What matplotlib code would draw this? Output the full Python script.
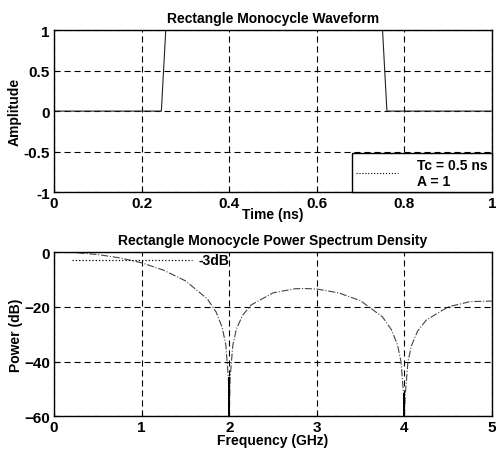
import matplotlib
matplotlib.use("Agg")
import matplotlib.pyplot as plt

# top panel: rectangle monocycle
time_ns = [0.0, 0.245, 0.255, 0.75, 0.76, 1.0]
amplitude = [0.0, 0.0, 1.0, 1.0, 0.0, 0.0]

# bottom panel: power spectrum density
freq_ghz = [0.0, 0.25, 0.5, 0.75, 1.0, 1.25, 1.5, 1.75, 1.85, 1.92, 1.96, 1.99,
            2.0, 2.01, 2.04, 2.08, 2.15, 2.25, 2.5, 2.75, 2.86, 3.0, 3.25, 3.5,
            3.75, 3.85, 3.92, 3.96, 3.99, 4.0, 4.01, 4.04, 4.08, 4.15, 4.25,
            4.5, 4.75, 5.0]
power_db = [0.0, -0.2, -0.9, -2.1, -3.9, -6.6, -10.5, -17.1, -21.9, -27.6, -33.8, -46.0,
            -60.0, -46.0, -34.2, -28.3, -23.2, -19.3, -14.9, -13.4, -13.3, -13.5, -14.9, -17.8,
            -23.7, -28.3, -33.8, -39.9, -52.0, -60.0, -52.0, -40.1, -34.2, -28.9, -24.8,
            -20.0, -18.1, -17.9]

ref_x = [0.2, 1.58]
ref_y = [-3, -3]

plt.rcParams["font.family"] = ["Liberation Sans", "DejaVu Sans"]
plt.rcParams["font.weight"] = "bold"
plt.rcParams["axes.titleweight"] = "bold"
plt.rcParams["axes.labelweight"] = "bold"

fig = plt.figure(figsize=(4.96, 4.52), dpi=100)
ax1 = fig.add_axes([0.109, 0.573, 0.883, 0.358])
ax2 = fig.add_axes([0.109, 0.077, 0.883, 0.363])

grid_kw = dict(color="black", linestyle=(0, (5.5, 3.5)), linewidth=0.8)

# ── top: waveform ──
ax1.plot(time_ns, amplitude, color="#222222", linewidth=0.8)
ax1.set_xlim(0, 1)
ax1.set_ylim(-1, 1)
ax1.set_xticks([0, 0.2, 0.4, 0.6, 0.8, 1])
ax1.set_xticklabels(["0", "0.2", "0.4", "0.6", "0.8", "1"])
ax1.set_yticks([-1, -0.5, 0, 0.5, 1])
ax1.set_yticklabels(["-1", "-0.5", "0", "0.5", "1"])
ax1.grid(True, **grid_kw)
ax1.set_title("Rectangle Monocycle Waveform", fontsize=10, pad=6)
ax1.set_xlabel("Time (ns)", fontsize=10, labelpad=-2)
ax1.set_ylabel("Amplitude", fontsize=10, labelpad=1)
leg_handle = plt.Line2D([], [], color="black", linestyle=":", linewidth=0.8)
ax1.legend([leg_handle], ["Tc = 0.5 ns\nA = 1"], loc="lower right", borderaxespad=0,
           fancybox=False, edgecolor="black", framealpha=1, borderpad=0.3,
           handlelength=3.0, handletextpad=1.4, prop={"weight": "bold", "size": 10})

# ── bottom: PSD ──
ax2.plot(freq_ghz, power_db, color="#444444", linestyle="-.", linewidth=0.8)
ax2.plot([2, 2], [-46, -60], color="black", linewidth=1.4)
ax2.plot([4, 4], [-52, -60], color="black", linewidth=1.4)
ax2.plot(ref_x, ref_y, color="black", linestyle=":", linewidth=0.9)
ax2.text(1.65, -3, "-3dB", fontsize=10, va="center", ha="left")
ax2.set_xlim(0, 5)
ax2.set_ylim(-60, 0)
ax2.set_xticks([0, 1, 2, 3, 4, 5])
ax2.set_yticks([-60, -40, -20, 0])
ax2.grid(True, **grid_kw)
ax2.set_title("Rectangle Monocycle Power Spectrum Density", fontsize=10, pad=6)
ax2.set_xlabel("Frequency (GHz)", fontsize=10, labelpad=-1)
ax2.set_ylabel("Power (dB)", fontsize=10, labelpad=1)

for ax in (ax1, ax2):
    ax.tick_params(direction="in", length=3, labelsize=11, pad=3)
    for s in ax.spines.values():
        s.set_linewidth(1.0)

fig.savefig("out.png", dpi=100)
